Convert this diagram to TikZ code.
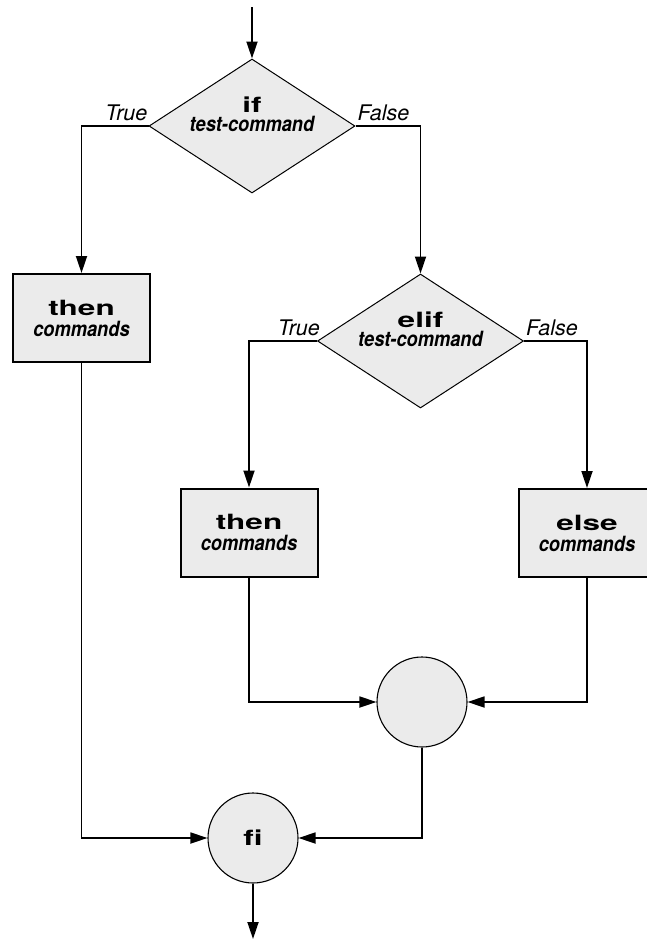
\documentclass[tikz,border=0pt]{standalone}
\usepackage{fontspec}
\usetikzlibrary{arrows.meta,shapes.geometric}
\setsansfont{TeX Gyre Heros}
\newfontfamily\kwfont[FakeStretch=1.5,Ligatures=NoCommon]{TeX Gyre Heros}
\newfontfamily\cmdfont[FakeStretch=0.87]{TeX Gyre Heros}
\newcommand\kw[1]{{\fontsize{21}{21}\kwfont\bfseries #1}}
\newcommand\cmd[1]{{\fontsize{21}{21}\cmdfont\bfseries\itshape #1}}
\newcommand\twolines[3][21pt]{\vbox{\baselineskip=#1\halign{\hfil##\hfil\cr#2\cr#3\cr}}}
\newcommand\condtext[2]{\raisebox{-5pt}[0pt][0pt]{\twolines[19pt]{\kw{#1}}{\cmd{#2}}}}
\definecolor{boxgray}{gray}{0.92}
\begin{document}
\begin{tikzpicture}[x=1pt, y=-1pt, font=\fontsize{20}{20}\selectfont,
	decision/.style={diamond, draw=black, line width=1pt, fill=boxgray, aspect=1.55, inner sep=0pt, minimum width=206pt, minimum height=134pt},
	block/.style={rectangle, draw=black, line width=2pt, fill=boxgray, inner sep=0pt, minimum width=137pt, minimum height=88pt},
	junction/.style={circle, draw=black, line width=1.1pt, fill=boxgray, inner sep=0pt, minimum size=90pt},
	flow/.style={line width=1.8pt, -{Triangle[length=17pt, width=11pt]}},
	lbl/.style={font=\fontsize{21.5}{21.5}\selectfont\sffamily\itshape, inner sep=0pt}]
	\useasboundingbox (0,0) rectangle (646,940);
	% nodes
	\coordinate (start) at (252,7);
	\node[decision] (if) at (252,126) {\condtext{if}{test-command}};
	\node[block] (then1) at (81.5,318) {\twolines{\kw{then}}{\cmd{commands}}};
	\node[decision] (elif) at (420.5,341) {\condtext{elif}{test-command}};
	\node[block] (then2) at (249,532.5) {\twolines{\kw{then}}{\cmd{commands}}};
	\node[block] (else) at (587,533) {\twolines{\kw{else}}{\cmd{commands}}};
	\node[junction] (merge) at (422,702) {};
	\node[junction] (fi) at (253,838) {\kw{fi}};
	\coordinate (end) at (253,939);
	% branch labels
	\node[lbl, anchor=base east] (iftrue) at ([xshift=-1pt, yshift=6pt]if.west) {True};
	\node[lbl, anchor=base west] (iffalse) at ([xshift=2pt, yshift=6pt]if.east) {False};
	\node[lbl, anchor=base east] (eliftrue) at ([xshift=3pt, yshift=6pt]elif.west) {True};
	\node[lbl, anchor=base west] (eliffalse) at ([xshift=2pt, yshift=6pt]elif.east) {False};
	% connectors
	\draw[flow] (start) -- (if.north);
	\draw[flow] (if.west) -| (then1.north);
	\draw[flow] (if.east) -| (elif.north);
	\draw[flow] (elif.west) -| (then2.north);
	\draw[flow] (elif.east) -| (else.north);
	\draw[flow] (then2.south) |- (merge.west);
	\draw[flow] (else.south) |- (merge.east);
	\draw[flow] (then1.south) |- (fi.west);
	\draw[flow] (merge.south) |- (fi.east);
	\draw[flow] (fi.south) -- (end);
\end{tikzpicture}
\end{document}
